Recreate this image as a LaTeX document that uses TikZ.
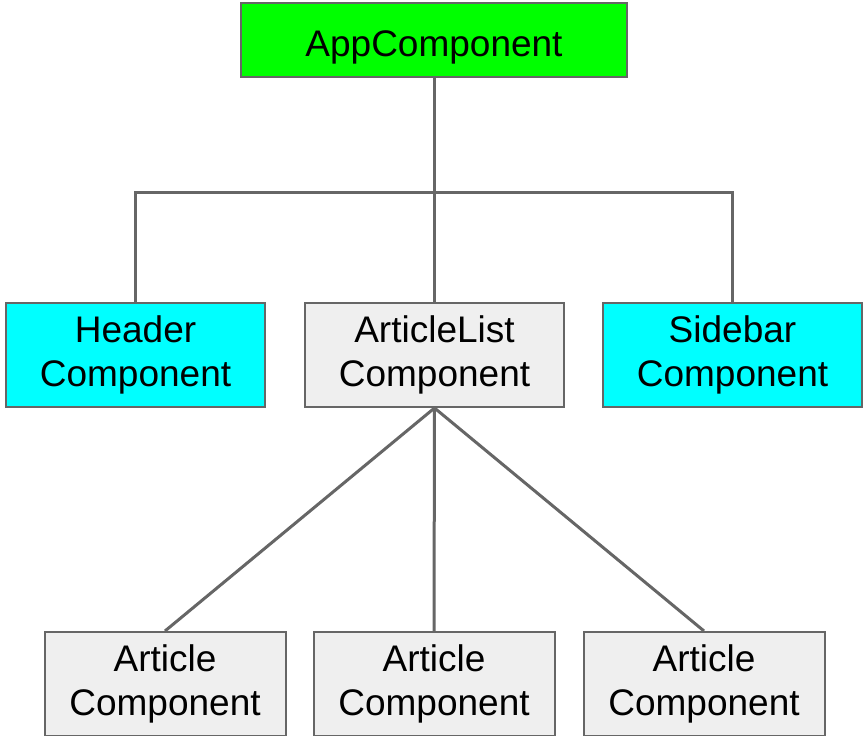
\documentclass[tikz,border=0pt]{standalone}
\usepackage{fontspec}
\setmainfont{Liberation Sans}
\definecolor{boxgreen}{HTML}{00FF00}
\definecolor{boxcyan}{HTML}{00FFFF}
\definecolor{boxgray}{HTML}{EFEFEF}
\definecolor{linegray}{HTML}{666666}
\begin{document}
\begin{tikzpicture}[x=1pt,y=-1pt,
  comp/.style={draw=linegray, line width=2pt, align=center, inner sep=0pt,
    font=\fontsize{37}{44}\selectfont, text=black,
    execute at begin node={\rule{0pt}{40pt}}},
  wide/.style={comp, minimum width=259pt, minimum height=104pt},
  art/.style={comp, minimum width=241pt, minimum height=104pt, fill=boxgray},
  link/.style={draw=linegray, line width=3pt}]
\useasboundingbox (0,0) rectangle (865,736);
\node[comp, fill=boxgreen, minimum width=386pt, minimum height=74pt] (app) at (434,40) {AppComponent};
\node[wide, fill=boxcyan] (hdr) at (135.5,355) {Header\\Component};
\node[wide, fill=boxgray] (als) at (434.5,355) {ArticleList\\Component};
\node[wide, fill=boxcyan] (sb) at (732.5,355) {Sidebar\\Component};
\node[art] (a1) at (165,684) {Article\\Component};
\node[art] (a2) at (434,684) {Article\\Component};
\node[art] (a3) at (704,684) {Article\\Component};
\coordinate (j) at (434,192);
\draw[link] (app.south) -- (app.south |- als.north);
\draw[link] (hdr.north) |- (j) -| (sb.north);
\draw[link] (als.south) -- (a1.north);
\draw[link] (als.south) -- (a2.north);
\draw[link] (als.south) -- (a3.north);
\end{tikzpicture}
\end{document}
